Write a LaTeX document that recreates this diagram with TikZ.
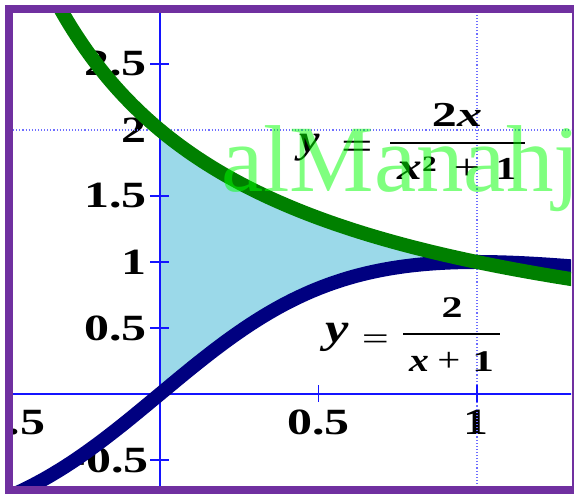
\documentclass[tikz,border=0pt]{standalone}
\usepackage{fontspec}
\setmainfont{Liberation Serif}
\definecolor{framec}{RGB}{112,48,160}
\definecolor{axblue}{RGB}{20,20,255}
\definecolor{gridc}{RGB}{110,110,255}
\definecolor{fillc}{RGB}{155,217,233}
\definecolor{navyc}{RGB}{0,0,128}
\definecolor{greenc}{RGB}{0,128,0}
\definecolor{wmc}{RGB}{0,255,0}
\newcommand{\fs}[1]{\fontsize{#1}{#1}\selectfont}
\begin{document}
\begin{tikzpicture}[x=1pt,y=1pt,
  axis/.style={axblue,line width=2.8pt},
  tick/.style={axblue,line width=1.5pt},
  gridline/.style={gridc,line width=1.1pt,dotted},
  curve/.style={line width=14pt,line join=round},
  ticklab/.style={font=\fs{37}\bfseries,xscale=1.35,inner sep=0pt},
  mlab/.style={inner sep=0pt,anchor=base},
  fracbar/.style={black,line width=2.3pt},
  wmark/.style={font=\fs{95},text=wmc,text opacity=0.5,inner sep=0pt}]
\useasboundingbox (0,0) rectangle (574,494);
\fill[white] (0,0) rectangle (574,494);
\begin{scope}
\clip (13,7) rectangle (571,481);
% tick labels (under the curves)
\node[ticklab,anchor=east] (ly25) at (147,430) {2.5};
\node[ticklab,anchor=east] (ly2) at (147,364) {2};
\node[ticklab,anchor=east] (ly15) at (147,298) {1.5};
\node[ticklab,anchor=east] (ly1) at (147,232) {1};
\node[ticklab,anchor=east] (ly05) at (147,166) {0.5};
\node[ticklab,anchor=east] (lym05) at (149,34) {-0.5};
\node[ticklab] (lx05) at (318.5,72) {0.5};
\node[ticklab] (lx1) at (476,72) {1};
\node[ticklab] (lxm05) at (0,72) {−0.5};
\begin{scope}[shift={(160pt,100pt)},x=317pt,y=132pt]
  \fill[fillc] plot[domain=0:1,samples=80,smooth] (\x,{2/(\x+1)})
     -- plot[domain=1:0,samples=80,smooth] (\x,{2*\x/(\x*\x+1)}) -- cycle;
  \draw[gridline] (-0.6,2) -- (1.4,2);
  \draw[gridline] (1,-0.8) -- (1,3);
  \draw[axis] (-0.6,0) -- (1.4,0);
  \draw[axis] (0,-0.8) -- (0,3);
  \foreach \t in {-0.5,0.5,1,1.5,2,2.5}
    \draw[tick] ([xshift=-10pt]0,\t) -- ([xshift=9pt]0,\t);
  \foreach \t in {-0.5,0.5,1}
    \draw[tick] ([yshift=-8pt]\t,0) -- ([yshift=9pt]\t,0);
  \draw[curve,navyc] plot[domain=-0.5:1.32,samples=120,smooth] (\x,{2*\x/(\x*\x+1)});
  \draw[curve,greenc] plot[domain=-0.5:1.32,samples=120,smooth] (\x,{2/(\x+1)});
\end{scope}
% label y = 2x/(x^2+1)
\node[mlab,xscale=1.15,font=\fs{40}\bfseries\itshape] (ay) at (310,341) {y};
\node[inner sep=0pt,xscale=1.4,font=\fs{40}] (aeq) at (357.5,344) {=};
\coordinate (abarL) at (390,351);
\coordinate (abarR) at (525,351);
\draw[fracbar] (abarL) -- (abarR);
\node[mlab,xscale=1.43,font=\fs{35}\bfseries] (anum) at (457,367) {2\textit{x}};
\node[mlab,xscale=1.3] (aden) at (457,314)
  {{\fs{38}\bfseries\itshape x}\raisebox{8pt}{\fs{22}\bfseries 2}\hspace{13pt}{\fs{36}+}\hspace{12pt}{\fs{32}\bfseries 1}};
% label y = 2/(x+1)
\node[mlab,xscale=1.25,font=\fs{42}\bfseries\itshape] (by) at (337.5,151) {y};
\node[inner sep=0pt,xscale=1.5,font=\fs{32}] (beq) at (375.5,152) {=};
\coordinate (bbarL) at (403,160);
\coordinate (bbarR) at (500,160);
\draw[fracbar] (bbarL) -- (bbarR);
\node[mlab,xscale=1.4,font=\fs{30}\bfseries] (bnum) at (452,176) {2};
\node[mlab,xscale=1.2] (bden) at (451.5,122)
  {{\fs{33}\bfseries\itshape x}\hspace{7pt}{\fs{34}+}\hspace{10pt}\scalebox{1.2}[1]{\fs{30}\bfseries 1}};
\end{scope}
% frame
\draw[framec,line width=8pt] (9,4) rectangle (576,485);
% watermark
\node[wmark,anchor=base west] (wm) at (221,302) {alManahj};
\end{tikzpicture}
\end{document}
